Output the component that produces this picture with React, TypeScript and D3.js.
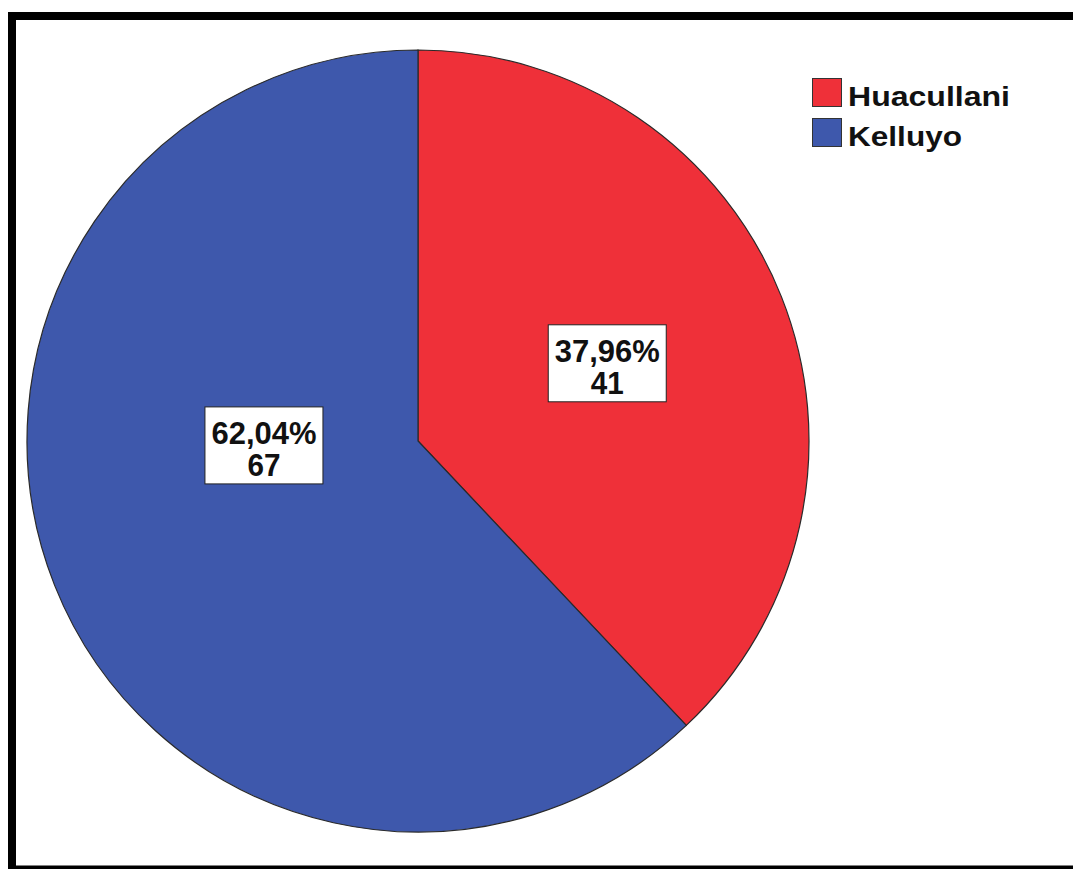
import React from "react";
import * as d3 from "d3";

const categories = ["Huacullani", "Kelluyo"];
const counts = [41, 67];
const colors = ["#EF3039", "#3E58AC"];

const W = 1073;
const H = 869;
const CX = 418;
const CY = 441;
const R = 391;

// label box placement (fraction of radius from centre), per slice
const labelPos = [
  [0.484, -0.2],
  [-0.394, 0.01],
];

export default function App() {
  const total = d3.sum(counts);
  const data = categories.map((c, i) => ({ name: c, value: counts[i], color: colors[i] }));
  const pie = d3.pie<any>().sort(null).value((d: any) => d.value);
  const arcs = pie(data);
  const arc = d3.arc<any>().innerRadius(0).outerRadius(R);
  const fmt = (v: number) => ((v / total) * 100).toFixed(2).replace(".", ",") + "%";

  return (
    <div style={{ position: "fixed", left: 0, top: 0 }}>
      <svg width={W} height={H} style={{ display: "block", background: "#fff" }}>
        <rect x={0} y={0} width={W} height={H} fill="#fff" />
        {/* frame */}
        <path d={`M12,${H + 10} V16 H${W + 10}`} fill="none" stroke="#000" strokeWidth={8} />
        <line x1={8} y1={867.5} x2={W + 10} y2={867.5} stroke="#000" strokeWidth={4} />
        <g transform={`translate(${CX},${CY})`}>
          {arcs.map((a, i) => (
            <path key={i} d={arc(a) as string} fill={a.data.color} stroke="#2a2a2a" strokeWidth={1.2} />
          ))}
          {arcs.map((a, i) => {
            const lx = labelPos[i][0] * R;
            const ly = labelPos[i][1] * R;
            return (
              <g key={"l" + i} transform={`translate(${lx},${ly})`}>
                <rect x={-59} y={-38} width={118} height={77} fill="#fff" stroke="#222" strokeWidth={1} />
                <text
                  x={0}
                  y={-1}
                  textAnchor="middle"
                  fontFamily="Liberation Sans, Arial, sans-serif"
                  fontWeight="bold"
                  fontSize={31.5}
                  fill="#111"
                  textLength={105}
                  lengthAdjust="spacingAndGlyphs"
                >
                  {fmt(a.data.value)}
                </text>
                <text
                  x={0}
                  y={31.5}
                  textAnchor="middle"
                  fontFamily="Liberation Sans, Arial, sans-serif"
                  fontWeight="bold"
                  fontSize={31.5}
                  fill="#111"
                  textLength={33}
                  lengthAdjust="spacingAndGlyphs"
                >
                  {a.data.value}
                </text>
              </g>
            );
          })}
        </g>
        {/* legend */}
        <g transform="translate(812,78)">
          {data.map((d, i) => (
            <g key={d.name} transform={`translate(0,${i * 40})`}>
              <rect x={0.5} y={0.5} width={29} height={28} fill={d.color} stroke="#333" strokeWidth={1} />
              <text
                x={36}
                y={28}
                fontFamily="Liberation Sans, Arial, sans-serif"
                fontWeight="bold"
                fontSize={28}
                fill="#111"
                textLength={i === 0 ? 162 : 114}
                lengthAdjust="spacingAndGlyphs"
              >
                {d.name}
              </text>
            </g>
          ))}
        </g>
      </svg>
    </div>
  );
}
